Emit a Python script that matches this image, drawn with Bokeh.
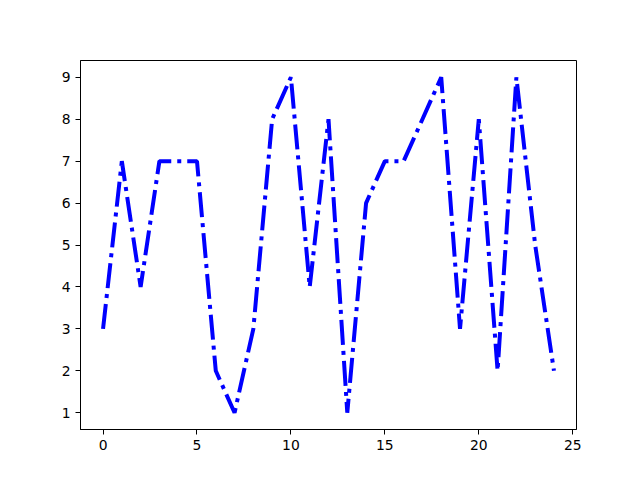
from bokeh.plotting import figure
from bokeh.embed import file_html
from bokeh.resources import INLINE
from bokeh.models import FixedTicker, Range1d

xs = list(range(25))
ys = [3, 7, 4, 7, 7, 7, 2, 1, 3, 8, 9, 4, 8, 1, 6, 7, 7, 8, 9, 3, 8, 2, 9, 5, 2]
x_ticks = [0, 5, 10, 15, 20, 25]
y_ticks = [1, 2, 3, 4, 5, 6, 7, 8, 9]

p = figure(width=632, height=472, output_backend="svg", toolbar_location=None,
           x_range=Range1d(-1.2, 25.2), y_range=Range1d(0.6, 9.4),
           min_border_left=80, min_border_right=56, min_border_top=60, min_border_bottom=43)
p.frame_width = 496
p.frame_height = 369

p.line(xs, ys, line_color="blue", line_width=4, line_dash="25 6 4 6")

p.xgrid.visible = False
p.ygrid.visible = False
p.outline_line_color = "black"
p.outline_line_width = 1
p.background_fill_color = "white"
p.border_fill_color = "white"

for ax, t in ((p.xaxis, x_ticks), (p.yaxis, y_ticks)):
    ax.ticker = FixedTicker(ticks=t)
    ax.minor_tick_line_color = None
    ax.major_tick_in = 0
    ax.major_tick_out = 5
    ax.major_tick_line_color = "black"
    ax.axis_line_color = "black"
    ax.major_label_text_font = "DejaVu Sans"
    ax.major_label_text_font_size = "13.9px"
    ax.major_label_text_color = "black"

open("out.html", "w").write(file_html(p, INLINE))
